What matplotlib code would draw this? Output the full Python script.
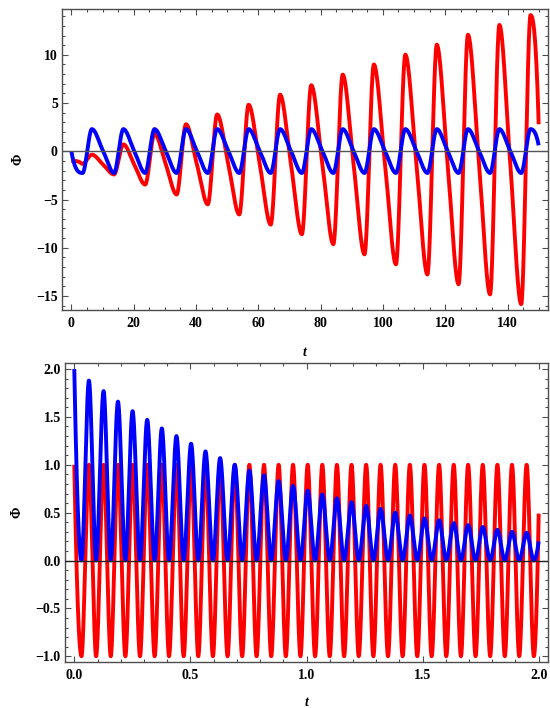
import numpy as np
import matplotlib
matplotlib.use("Agg")
import matplotlib.pyplot as plt
from matplotlib.ticker import MultipleLocator, FuncFormatter

# ---------------- data ----------------
# Top panel: key points (extrema and mid-descent points) of each curve
top_red_t = [0.0, 1.5, 2.4, 3.6, 6.6, 10.2, 13.7, 16.7, 20.2, 23.7, 26.7, 30.3, 33.8, 36.8,
             40.3, 43.8, 46.8, 50.4, 53.9, 56.9, 60.5, 64.0, 67.0, 70.5, 74.0, 77.0,
             80.6, 84.1, 87.1, 90.6, 94.1, 97.1, 100.7, 104.2, 107.2, 110.8, 114.3,
             117.3, 120.8, 124.3, 127.3, 130.9, 134.4, 137.4, 140.9, 144.4, 147.4, 150.0]
top_red_v = [-1.00, -1.01, -1.08, -1.30, -0.35, -1.38, -2.40, 0.72, -1.37, -3.45, 1.83, -1.33,
             -4.48, 2.80, -1.35, -5.50, 3.82, -1.36, -6.55, 4.83, -1.38, -7.60, 5.87,
             -1.36, -8.60, 6.85, -1.39, -9.63, 7.95, -1.36, -10.68, 9.00, -1.36, -11.72,
             10.02, -1.37, -12.77, 11.05, -1.36, -13.78, 12.08, -1.37, -14.83, 13.10,
             -1.37, -15.85, 14.12, 2.80]

top_blue_t = [0.0, 3.6, 6.6, 10.2, 13.7, 16.7, 20.2, 23.7, 26.7, 30.3, 33.8, 36.8, 40.3,
              43.8, 46.8, 50.4, 53.9, 56.9, 60.5, 64.0, 67.0, 70.5, 74.0, 77.0, 80.6,
              84.1, 87.1, 90.6, 94.1, 97.1, 100.7, 104.2, 107.2, 110.8, 114.3, 117.3,
              120.8, 124.3, 127.3, 130.9, 134.4, 137.4, 140.9, 144.4, 147.4, 150.0]
top_blue_v = [0.00, -2.25, 2.30, 0.02, -2.25, 2.30, 0.02, -2.25, 2.30, 0.02, -2.25, 2.30,
              0.02, -2.25, 2.30, 0.02, -2.25, 2.30, 0.02, -2.25, 2.30, 0.02, -2.25, 2.30,
              0.02, -2.25, 2.30, 0.02, -2.25, 2.30, 0.02, -2.25, 2.30, 0.02, -2.25, 2.30,
              0.02, -2.25, 2.30, 0.02, -2.25, 2.30, 0.02, -2.25, 2.30, 0.62]

# Bottom panel: times of maxima and minima, values at them
bot_peak_t = [0.000, 0.063, 0.126, 0.188, 0.251, 0.314, 0.377, 0.440, 0.503, 0.565,
              0.628, 0.691, 0.754, 0.817, 0.880, 0.942, 1.005, 1.068, 1.131, 1.194,
              1.257, 1.319, 1.382, 1.445, 1.508, 1.571, 1.634, 1.696, 1.759, 1.822,
              1.885, 1.948]
bot_trough_t = [0.031, 0.094, 0.157, 0.220, 0.283, 0.346, 0.408, 0.471, 0.534, 0.597,
                0.660, 0.723, 0.785, 0.848, 0.911, 0.974, 1.037, 1.100, 1.162, 1.225,
                1.288, 1.351, 1.414, 1.477, 1.539, 1.602, 1.665, 1.728, 1.791, 1.854,
                1.916, 1.979]
bot_red_peak = 1.0
bot_red_trough = -1.0
bot_blue_peak_v = [2.00, 1.88, 1.77, 1.66, 1.56, 1.47, 1.38, 1.30, 1.22, 1.14, 1.07,
                   1.00, 0.94, 0.89, 0.83, 0.78, 0.73, 0.69, 0.65, 0.61, 0.57, 0.54,
                   0.50, 0.47, 0.44, 0.42, 0.39, 0.37, 0.35, 0.32, 0.30, 0.29]
bot_blue_trough = 0.0
bot_end_t = 2.0
bot_red_end = 0.49
bot_blue_end = 0.20


# ---------------- smooth drawing through key points (monotone cubic) ----------------
def pchip(x, y, xn):
    x = np.asarray(x, float)
    y = np.asarray(y, float)
    h = np.diff(x)
    d = np.diff(y) / h
    n = len(x)
    m = np.zeros(n)
    for i in range(1, n - 1):
        if d[i - 1] * d[i] > 0:
            w1 = 2 * h[i] + h[i - 1]
            w2 = h[i] + 2 * h[i - 1]
            m[i] = (w1 + w2) / (w1 / d[i - 1] + w2 / d[i])

    def endd(h0, h1, d0, d1):
        mm = ((2 * h0 + h1) * d0 - h0 * d1) / (h0 + h1)
        if np.sign(mm) != np.sign(d0):
            mm = 0.0
        elif np.sign(d0) != np.sign(d1) and abs(mm) > 3 * abs(d0):
            mm = 3 * d0
        return mm

    m[0] = endd(h[0], h[1], d[0], d[1])
    m[-1] = endd(h[-1], h[-2], d[-1], d[-2])
    idx = np.clip(np.searchsorted(x, xn) - 1, 0, n - 2)
    s = (xn - x[idx]) / h[idx]
    h00 = 2 * s**3 - 3 * s**2 + 1
    h10 = s**3 - 2 * s**2 + s
    h01 = -2 * s**3 + 3 * s**2
    h11 = s**3 - s**2
    return (h00 * y[idx] + h10 * h[idx] * m[idx] + h01 * y[idx + 1]
            + h11 * h[idx] * m[idx + 1])


# build bottom key-point sequences
bt = []
br = []
bb = []
for i in range(len(bot_peak_t)):
    bt += [bot_peak_t[i], bot_trough_t[i]]
    br += [bot_red_peak, bot_red_trough]
    bb += [bot_blue_peak_v[i], bot_blue_trough]
bt.append(bot_end_t)
br.append(bot_red_end)
bb.append(bot_blue_end)

# ---------------- figure ----------------
RED = "#ff0000"
BLUE = "#0000ff"
FRAME = "#4d4d4d"
FONT = "Liberation Serif"
LW = 2.8

fig = plt.figure(figsize=(5.5, 7.08), dpi=100)
ax1 = fig.add_axes([62 / 550, 1 - 310 / 708, 486 / 550, 301 / 708])
ax2 = fig.add_axes([65 / 550, 1 - 662 / 708, 483 / 550, 298.7 / 708])

tt = np.linspace(0, 150, 6000)
ax1.plot(tt, pchip(top_red_t, top_red_v, tt), color=RED, lw=LW, solid_capstyle="butt")
ax1.plot(tt, pchip(top_blue_t, top_blue_v, tt), color=BLUE, lw=LW, solid_capstyle="butt")
ax1.axhline(0, color="#555555", lw=1.0, zorder=5)
ax1.set_xlim(-3, 153)
ax1.set_ylim(-16.45, 14.75)

tb = np.linspace(0, 2.0, 8000)
ax2.plot(tb, pchip(bt, br, tb), color=RED, lw=LW, solid_capstyle="butt")
ax2.plot(tb, pchip(bt, bb, tb), color=BLUE, lw=LW, solid_capstyle="butt")
ax2.axhline(0, color="#222222", lw=1.0, zorder=5)
ax2.set_xlim(-0.04, 2.04)
ax2.set_ylim(-1.06, 2.06)


def minus_fmt(dec):
    def f(v, pos):
        s = f"{v:.{dec}f}"
        if s.startswith("-"):
            s = "\u2212" + s[1:]
        if s in ("\u22120", "\u22120.0"):
            s = s[1:]
        return s
    return FuncFormatter(f)


def style(ax, xmaj, xmin, ymaj, ymin, xdec, ydec):
    ax.xaxis.set_major_locator(MultipleLocator(xmaj))
    ax.xaxis.set_minor_locator(MultipleLocator(xmin))
    ax.yaxis.set_major_locator(MultipleLocator(ymaj))
    ax.yaxis.set_minor_locator(MultipleLocator(ymin))
    ax.xaxis.set_major_formatter(minus_fmt(xdec))
    ax.yaxis.set_major_formatter(minus_fmt(ydec))
    ax.tick_params(which="both", direction="in", top=True, right=True,
                   color=FRAME, width=0.8)
    ax.tick_params(which="major", length=4.0)
    ax.tick_params(which="minor", length=2.2)
    ax.tick_params(axis="x", which="major", pad=5.0)
    ax.tick_params(axis="y", which="major", pad=3.0)
    for lab in ax.get_xticklabels() + ax.get_yticklabels():
        lab.set_fontfamily(FONT)
        lab.set_fontweight("bold")
        lab.set_fontsize(10)
    for sp in ax.spines.values():
        sp.set_color(FRAME)
        sp.set_linewidth(1.0)


style(ax1, 20, 5, 5, 1, 0, 0)
style(ax2, 0.5, 0.1, 0.5, 0.1, 1, 1)

for ax, ylx in ((ax1, -0.09), (ax2, -0.10)):
    ax.set_xlabel("t", fontfamily=FONT, fontweight="bold", fontstyle="italic",
                  fontsize=10, va="center")
    ax.set_ylabel("\u03a6", fontfamily=FONT, fontweight="bold", fontsize=10,
                  va="center", rotation=90)
    ax.yaxis.set_label_coords(ylx, 0.5)
ax1.xaxis.set_label_coords(0.5, -0.14)
ax2.xaxis.set_label_coords(0.5, -0.137)

fig.savefig("out.png", dpi=100)
